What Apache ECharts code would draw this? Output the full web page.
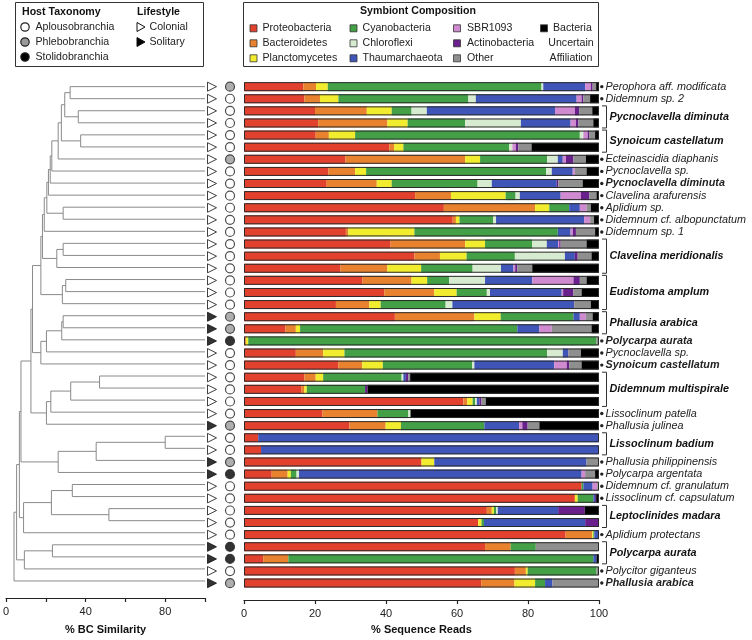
<!DOCTYPE html>
<html><head><meta charset="utf-8">
<script src="https://cdn.jsdelivr.net/npm/echarts@6/dist/echarts.min.js"></script>
<style>html,body{margin:0;padding:0;background:#fff}#c{width:752px;height:640px}</style>
</head><body><div id="c"></div>
<script>
// ---------------- DATA ----------------
const taxa = ['Proteobacteria','Bacteroidetes','Planctomycetes','Cyanobacteria','Chloroflexi','Thaumarchaeota','SBR1093','Actinobacteria','Other','Bacteria Uncertain Affiliation'];
const taxaColors = ['#e2412e','#e8822e','#f2ec2e','#43a047','#d6ebd0','#3f55b8','#cf8ad0','#6a208c','#8f8f8f','#000000'];

const proteobacteria = [16.7,17.0,20.0,20.9,20.2,40.9,28.6,23.8,23.3,48.2,56.3,58.8,28.7,41.3,48.0,27.2,33.4,39.5,25.9,42.5,11.7,0.5,14.6,26.6,17.0,16.1,61.8,22.1,29.7,4.0,4.8,50.0,7.8,95.1,93.2,68.4,66.0,90.6,67.9,5.4,76.3,66.8];
const bacteroidetes = [3.6,4.4,14.6,19.5,3.7,1.4,33.7,7.5,14.1,10.1,25.7,0.9,0.7,21.0,7.2,13.2,13.8,14.1,9.4,22.4,2.9,0,7.7,6.7,3.2,0.9,1.1,15.5,10.2,0,0,0,4.5,0,0,1.4,0,7.5,7.2,7.1,3.1,9.4];
const planctomycetes = [3.3,5.2,7.0,5.7,7.4,2.6,4.2,3.1,4.2,15.4,4.0,1.0,18.6,5.6,7.5,9.5,4.4,6.3,3.2,7.4,1.2,0.7,6.0,5.8,2.1,0.7,1.5,0,4.3,0,0,3.6,0.9,0,0.8,0.6,0.9,0.3,0,0,0.5,5.8];
const cyanobacteria = [60.2,36.6,5.6,16.2,63.3,29.8,18.9,50.7,24.2,2.8,5.6,9.5,40.4,13.3,13.6,14.5,6.2,8.5,18.3,20.5,61.2,98.1,57.1,25.2,22.1,16.4,0.7,8.7,23.5,0,0,0,1.6,0.5,4.4,0.6,0.7,0.3,7.1,85.9,19.4,2.8];
const chloroflexi = [0.5,2.1,4.3,15.7,1.0,0.9,3.0,1.6,4.0,1.2,0,0.8,0,4.1,14.1,8.0,10.1,0.9,1.9,0,0,0,4.4,0.6,0.5,0,0.5,0.6,0,0,0,0,0.7,0,0,0.5,0,0,0,0,0,0];
const thaumarchaeota = [11.8,28.4,36.1,14.0,0,0,1.4,5.9,18.3,11.5,3.0,24.8,3.6,3.2,2.8,3.5,13.3,20.2,34.3,1.8,6.2,0,1.6,22.5,0.7,0,0.7,0,9.8,96.0,95.2,42.9,79.6,2.6,0.5,17.0,28.5,1.3,0,0.9,0,2.1];
const sbr1093 = [1.6,1.4,5.6,1.5,1.2,1.0,0.9,0.6,0,5.7,1.9,1.7,0.6,0.3,0,0.5,11.6,0.4,0,1.7,3.5,0,0,3.5,0,0,0,0,0.9,0,0,0,1.0,1.3,0,0,0,0,0,0,0,0];
const actinobacteria = [0.5,0.5,1.2,0.7,0.4,0.7,2.1,0,0.4,2.4,0,0,0.9,0.4,0.8,0.6,1.8,2.9,0,0,0,0,0,0.7,0.7,0.7,0.6,0,1.5,0,0,0,0,0,0.3,7.5,3.9,0,0,0,0,0];
const other = [1.0,1.9,3.7,4.2,1.7,3.7,3.5,3.3,6.9,2.0,1.2,1.1,5.4,7.3,3.9,4.2,1.9,2.3,4.7,1.9,11.2,0.7,3.5,3.5,0.5,0,1.2,0,3.3,0,0,3.5,2.8,0.5,0,0,0,0,17.8,0,0.7,13.1];
const uncertain = [0.8,2.5,1.9,1.6,1.1,19.0,3.7,3.5,4.6,0.7,2.3,1.4,1.1,3.5,2.1,18.8,3.5,4.9,2.3,1.8,2.1,0,5.1,4.9,53.2,65.2,31.9,53.1,16.8,0,0,0,1.1,0,0.8,4.0,0,0,0,0.7,0,0];
const seriesValues = [proteobacteria,bacteroidetes,planctomycetes,cyanobacteria,chloroflexi,thaumarchaeota,sbr1093,actinobacteria,other,uncertain];

// Host taxonomy: A = Aplousobranchia, P = Phlebobranchia, S = Stolidobranchia
const taxonomy = ['P','A','A','A','A','A','P','A','A','A','A','A','A','A','A','A','A','A','A','P','P','S','A','A','A','A','A','A','P','A','A','P','S','A','A','A','A','A','S','S','A','P'];
// Lifestyle: C = colonial, S = solitary
const lifestyle = ['C','C','C','C','C','C','C','C','C','C','C','C','C','C','C','C','C','C','C','S','S','S','C','C','C','C','C','C','S','C','C','S','S','C','C','C','C','C','S','S','C','S'];

// [name, first row, last row, bold]
const speciesLabels = [
  ['Perophora aff. modificata',0,0,false],
  ['Didemnum sp. 2',1,1,false],
  ['Pycnoclavella diminuta',2,3,true],
  ['Synoicum castellatum',4,5,true],
  ['Ecteinascidia diaphanis',6,6,false],
  ['Pycnoclavella sp.',7,7,false],
  ['Pycnoclavella diminuta',8,8,true],
  ['Clavelina arafurensis',9,9,false],
  ['Aplidium sp.',10,10,false],
  ['Didemnum cf. albopunctatum',11,11,false],
  ['Didemnum sp. 1',12,12,false],
  ['Clavelina meridionalis',13,15,true],
  ['Eudistoma amplum',16,18,true],
  ['Phallusia arabica',19,20,true],
  ['Polycarpa aurata',21,21,true],
  ['Pycnoclavella sp.',22,22,false],
  ['Synoicum castellatum',23,23,true],
  ['Didemnum multispirale',24,26,true],
  ['Lissoclinum patella',27,27,false],
  ['Phallusia julinea',28,28,false],
  ['Lissoclinum badium',29,30,true],
  ['Phallusia philippinensis',31,31,false],
  ['Polycarpa argentata',32,32,false],
  ['Didemnum cf. granulatum',33,33,false],
  ['Lissoclinum cf. capsulatum',34,34,false],
  ['Leptoclinides madara',35,36,true],
  ['Aplidium protectans',37,37,false],
  ['Polycarpa aurata',38,39,true],
  ['Polycitor giganteus',40,40,false],
  ['Phallusia arabica',41,41,true]
];

// Dendrogram merges: [childA, childB, % BC similarity]; leaves 0..41, merge k gets id 42+k
const dendroMerges = [
  [0,1,32.2],[2,3,36.3],[42,43,29.5],[4,5,37.5],[44,45,27.8],[46,6,26.2],[47,7,23.0],[48,8,22.2],[49,9,21.3],
  [10,11,28.7],[50,51,20.5],[52,12,19.2],[13,14,28.7],[54,15,25.5],[53,55,18.3],[16,17,30.0],[57,18,28.3],[56,58,17.5],
  [19,20,28.7],[60,21,28.0],[61,22,20.3],[62,23,17.5],[59,63,13.3],
  [24,25,47.0],[65,26,32.5],[66,27,22.5],[67,28,20.3],[64,68,12.5],
  [29,30,80.0],[70,31,45.3],[71,32,26.2],[69,72,7.5],
  [33,34,33.3],[35,36,51.7],[74,75,22.8],[76,37,8.8],
  [38,39,23.3],[78,40,9.2],
  [73,77,6.7],[80,79,5.3],[81,41,4.0]
];

const bcTickLabels = [0,40,80];
const readTickLabels = [0,20,40,60,80,100];

// ---------------- BUILD ----------------
const nRows = proteobacteria.length;
const rows = proteobacteria.map((_, i) => i);
const totals = rows.map(i => seriesValues.reduce((s, arr) => s + arr[i], 0));
const nodeY = {}, nodeX = {};
rows.forEach(i => { nodeY[i] = i; nodeX[i] = 100; });
dendroMerges.forEach((m, k) => { const id = nRows + k; nodeY[id] = (nodeY[m[0]] + nodeY[m[1]]) / 2; nodeX[id] = m[2]; });

const FONT = '"Liberation Sans", Arial, Helvetica, sans-serif';
const TOP = 80.6, H = 508.6;
const LABEL_PX = 10.8, LEG_PX = 10.6;
const taxColor = {A:'#ffffff', P:'#9a9a9a', S:'#000000'};

const series = [];
seriesValues.forEach((arr, k) => {
  series.push({
    name: taxa[k], type: 'bar', stack: 'total', xAxisIndex: 1, yAxisIndex: 1,
    barWidth: 9, data: arr, itemStyle: {color: taxaColors[k]}, silent: true
  });
});
series.push({
  name: 'frame', type: 'bar', xAxisIndex: 1, yAxisIndex: 1, barWidth: 9, barGap: '-100%', z: 5,
  data: totals, itemStyle: {color: 'rgba(0,0,0,0)', borderColor: '#2a2a2a', borderWidth: 1}, silent: true
});
// dendrogram
series.push({
  type: 'custom', xAxisIndex: 0, yAxisIndex: 0, silent: true, clip: false,
  data: dendroMerges.map((m, k) => [m[2], nodeY[nRows + k]]),
  renderItem: (params, api) => {
    const m = dendroMerges[params.dataIndex];
    const a = m[0], b = m[1], s = m[2];
    const pts = [[nodeX[a], nodeY[a]], [s, nodeY[a]], [s, nodeY[b]], [nodeX[b], nodeY[b]]].map(p => api.coord(p));
    return {type: 'polyline', shape: {points: pts}, style: {stroke: '#8a8a8a', lineWidth: 1, fill: null}};
  }
});
// lifestyle triangles
series.push({
  type: 'scatter', xAxisIndex: 2, yAxisIndex: 2, silent: true,
  symbol: 'triangle', symbolRotate: -90, symbolSize: [9, 9],
  data: lifestyle.map((l, i) => ({value: [0, i], itemStyle: {color: l === 'S' ? '#000' : '#fff', borderColor: '#111', borderWidth: 1}}))
});
// taxonomy circles
series.push({
  type: 'scatter', xAxisIndex: 2, yAxisIndex: 2, silent: true,
  symbol: 'circle', symbolSize: 9,
  data: taxonomy.map((t, i) => ({value: [1, i], itemStyle: {color: taxColor[t], borderColor: '#222', borderWidth: 1.2}}))
});
// species labels
series.push({
  type: 'custom', xAxisIndex: 1, yAxisIndex: 1, silent: true, clip: false,
  data: speciesLabels.map(s => [100, s[1]]),
  renderItem: (params, api) => {
    const it = speciesLabels[params.dataIndex];
    const top = api.coord([100, it[1]]), bot = api.coord([100, it[2]]);
    const x0 = top[0], yc = (top[1] + bot[1]) / 2;
    const font = (it[3] ? 'italic bold ' : 'italic ') + LABEL_PX + 'px ' + FONT;
    const children = [];
    if (it[1] === it[2]) {
      children.push({type: 'circle', shape: {cx: x0 + 2.8, cy: yc, r: 1.7}, style: {fill: '#222'}});
      children.push({type: 'text', style: {x: x0 + 6.5, y: yc, text: it[0], font: font, fill: '#222', verticalAlign: 'middle', align: 'left'}});
    } else {
      children.push({type: 'polyline', shape: {points: [[x0 + 3, top[1] - 5], [x0 + 7.5, top[1] - 5], [x0 + 7.5, bot[1] + 5], [x0 + 3, bot[1] + 5]]}, style: {stroke: '#333', lineWidth: 1, fill: null}});
      children.push({type: 'text', style: {x: x0 + 10.5, y: yc, text: it[0], font: font, fill: '#111', verticalAlign: 'middle', align: 'left'}});
    }
    return {type: 'group', children: children};
  }
});

// legend graphics
const graphic = [];
graphic.push({type: 'rect', shape: {x: 15.5, y: 2.5, width: 188, height: 64}, style: {fill: '#fff', stroke: '#333', lineWidth: 1}});
graphic.push({type: 'text', x: 22, y: 12, style: {text: 'Host Taxonomy', font: 'bold ' + LEG_PX + 'px ' + FONT, fill: '#111', verticalAlign: 'middle'}});
graphic.push({type: 'text', x: 137, y: 12, style: {text: 'Lifestyle', font: 'bold ' + LEG_PX + 'px ' + FONT, fill: '#111', verticalAlign: 'middle'}});
[['Aplousobranchia','A'],['Phlebobranchia','P'],['Stolidobranchia','S']].forEach((e, k) => {
  const y = 27 + k * 15;
  graphic.push({type: 'circle', shape: {cx: 25, cy: y, r: 4.2}, style: {fill: taxColor[e[1]], stroke: '#222', lineWidth: 1.2}});
  graphic.push({type: 'text', x: 35.5, y: y, style: {text: e[0], font: LEG_PX + 'px ' + FONT, fill: '#222', verticalAlign: 'middle'}});
});
[['Colonial','#fff'],['Solitary','#000']].forEach((e, k) => {
  const y = 27 + k * 15;
  graphic.push({type: 'polygon', shape: {points: [[137, y - 4.5], [145, y], [137, y + 4.5]]}, style: {fill: e[1], stroke: '#111', lineWidth: 1}});
  graphic.push({type: 'text', x: 149.5, y: y, style: {text: e[0], font: LEG_PX + 'px ' + FONT, fill: '#222', verticalAlign: 'middle'}});
});
graphic.push({type: 'rect', shape: {x: 243.5, y: 2.5, width: 355, height: 64}, style: {fill: '#fff', stroke: '#333', lineWidth: 1}});
graphic.push({type: 'text', x: 418, y: 11, style: {text: 'Symbiont Composition', font: 'bold ' + LEG_PX + 'px ' + FONT, fill: '#111', verticalAlign: 'middle', align: 'center'}});
const legCols = [[250, 262.5], [350, 362.5], [453.5, 467]];
for (let k = 0; k < 9; k++) {
  const c = Math.floor(k / 3), r = k % 3;
  const y = 28.3 + r * 15;
  graphic.push({type: 'rect', shape: {x: legCols[c][0], y: y - 3.5, width: 7, height: 7}, style: {fill: taxaColors[k], stroke: '#333', lineWidth: 0.8}});
  graphic.push({type: 'text', x: legCols[c][1], y: y, style: {text: taxa[k], font: LEG_PX + 'px ' + FONT, fill: '#222', verticalAlign: 'middle'}});
}
graphic.push({type: 'rect', shape: {x: 540.5, y: 24.8, width: 7, height: 7}, style: {fill: taxaColors[9], stroke: '#333', lineWidth: 0.8}});
graphic.push({type: 'text', x: 553, y: 28.3, style: {text: 'Bacteria', font: LEG_PX + 'px ' + FONT, fill: '#222', verticalAlign: 'middle'}});
graphic.push({type: 'text', x: 571, y: 43.3, style: {text: 'Uncertain', font: LEG_PX + 'px ' + FONT, fill: '#222', verticalAlign: 'middle', align: 'center'}});
graphic.push({type: 'text', x: 571, y: 58.3, style: {text: 'Affiliation', font: LEG_PX + 'px ' + FONT, fill: '#222', verticalAlign: 'middle', align: 'center'}});

const axisCommon = {
  type: 'value', min: 0, max: 100, interval: 20, offset: 11,
  axisLine: {show: true, onZero: false, lineStyle: {color: '#222', width: 1.2}},
  axisTick: {show: true, length: 4, lineStyle: {color: '#222', width: 1.2}},
  splitLine: {show: false},
  nameLocation: 'middle',
  nameTextStyle: {fontFamily: FONT, fontWeight: 'bold', fontSize: 11, color: '#111'}
};

const option = {
  animation: false,
  backgroundColor: '#fff',
  textStyle: {fontFamily: FONT},
  grid: [
    {left: 5, width: 200, top: TOP, height: H},
    {left: 244, width: 355, top: TOP, height: H},
    {left: 203, width: 36, top: TOP, height: H}
  ],
  xAxis: [
    Object.assign({}, axisCommon, {gridIndex: 0, name: '% BC Similarity', nameGap: 26,
      axisLabel: {fontSize: 11, color: '#222', margin: 8, formatter: v => bcTickLabels.includes(v) ? String(v) : ''}}),
    Object.assign({}, axisCommon, {gridIndex: 1, name: '% Sequence Reads', nameGap: 23,
      axisLabel: {fontSize: 11, color: '#222', margin: 8, formatter: v => readTickLabels.includes(v) ? String(v) : ''}}),
    {gridIndex: 2, type: 'category', data: ['Lifestyle', 'Taxonomy'], show: false}
  ],
  yAxis: [
    {gridIndex: 0, type: 'value', min: -0.5, max: nRows - 0.5, inverse: true, show: false},
    {gridIndex: 1, type: 'category', data: rows, inverse: true, show: false},
    {gridIndex: 2, type: 'category', data: rows, inverse: true, show: false}
  ],
  graphic: graphic,
  series: series
};

const chart = echarts.init(document.getElementById('c'), null, {renderer: 'canvas'});
chart.setOption(option);
</script>
</body></html>
